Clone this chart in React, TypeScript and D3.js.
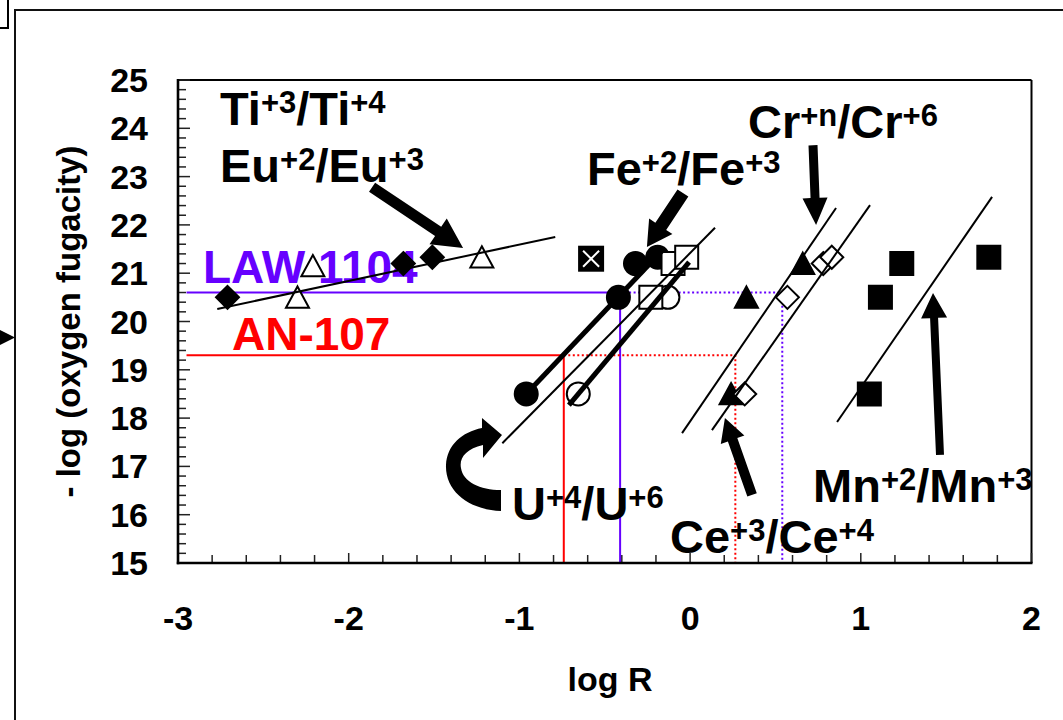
import React from 'react';
import * as d3 from 'd3';

// ---- chart data -------------------------------------------------------------
const xTickValues = [-3, -2, -1, 0, 1, 2];
const yTickValues = [15, 16, 17, 18, 19, 20, 21, 22, 23, 24, 25];

// [log R, -log fO2]
const tiOpenTriangles: [number, number][] = [[-2.3, 20.5], [-2.21, 21.15], [-1.22, 21.33]];
const euFilledDiamonds: [number, number][] = [[-2.71, 20.5], [-1.68, 21.2], [-1.51, 21.33]];
const crossedSquares: [number, number][] = [[-0.58, 21.3]];
const uFilledCircles: [number, number][] = [[-0.96, 18.5], [-0.42, 20.5], [-0.32, 21.2], [-0.19, 21.33]];
const uOpenCircles: [number, number][] = [[-0.655, 18.5], [-0.13, 20.5]];
const feOpenSquares: [number, number][] = [[-0.23, 20.5], [-0.1, 21.2], [-0.02, 21.33]];
const ceFilledTriangles: [number, number][] = [[0.24, 18.5], [0.33, 20.5], [0.66, 21.2]];
const crOpenDiamonds: [number, number][] = [[0.32, 18.5], [0.57, 20.5], [0.78, 21.2], [0.83, 21.33]];
const mnFilledSquares: [number, number][] = [[1.05, 18.5], [1.115, 20.5], [1.24, 21.2], [1.75, 21.33]];

// redox trend lines: [start, end, stroke width]
const tiEuLine: [number, number][] = [[-2.77, 20.26], [-0.79, 21.75]];
const uFilledLine: [number, number][] = [[-0.96, 18.5], [-0.16, 21.48]];
const feLine: [number, number][] = [[-1.1, 17.48], [0.146, 21.94]];
const uOpenLine: [number, number][] = [[-0.71, 18.27], [-0.006, 21.23]];
const crLineA: [number, number][] = [[-0.047, 17.69], [0.855, 22.35]];
const crLineB: [number, number][] = [[0.128, 17.75], [1.054, 22.41]];
const mnLine: [number, number][] = [[0.861, 17.92], [1.769, 22.58]];

// glass fugacity read-offs
const law1104Level = 20.6;
const law1104LogR = [-0.41, 0.54];
const an107Level = 19.3;
const an107LogR = [-0.74, 0.265];

// ---- layout -----------------------------------------------------------------
const W = 1063;
const H = 720;
const left = 178;
const right = 1031.5;
const top = 80;
const bottom = 563;
const FONT = '"Liberation Sans", Arial, Helvetica, sans-serif';
const PURPLE = '#6600ff';
const RED = '#ff0000';

const x = d3.scaleLinear().domain([-3, 2]).range([left, right]);
const y = d3.scaleLinear().domain([15, 25]).range([bottom, top]);

type Shape = 'circle' | 'square' | 'diamond' | 'triangle';

function markerPath(shape: Shape, cx: number, cy: number, s: number): string {
  const h = s / 2;
  if (shape === 'circle') {
    const p = d3.path();
    p.arc(cx, cy, h, 0, Math.PI * 2);
    p.closePath();
    return p.toString();
  }
  if (shape === 'square') {
    return `M${cx - h},${cy - h}H${cx + h}V${cy + h}H${cx - h}Z`;
  }
  if (shape === 'diamond') {
    return `M${cx},${cy - h}L${cx + h},${cy}L${cx},${cy + h}L${cx - h},${cy}Z`;
  }
  return `M${cx},${cy - h * 0.95}L${cx + h},${cy + h * 0.9}L${cx - h},${cy + h * 0.9}Z`;
}

function arrowPolygon(
  tail: [number, number],
  tip: [number, number],
  shaftW: number,
  headL: number,
  headW: number
): string {
  const x1 = x(tail[0]), y1 = y(tail[1]);
  const x2 = x(tip[0]), y2 = y(tip[1]);
  const len = Math.hypot(x2 - x1, y2 - y1);
  const ux = (x2 - x1) / len, uy = (y2 - y1) / len;
  const nx = -uy, ny = ux;
  const bx = x2 - ux * headL, by = y2 - uy * headL;
  const pts: [number, number][] = [
    [x1 + nx * shaftW / 2, y1 + ny * shaftW / 2],
    [bx + nx * shaftW / 2, by + ny * shaftW / 2],
    [bx + nx * headW / 2, by + ny * headW / 2],
    [x2, y2],
    [bx - nx * headW / 2, by - ny * headW / 2],
    [bx - nx * shaftW / 2, by - ny * shaftW / 2],
    [x1 - nx * shaftW / 2, y1 - ny * shaftW / 2],
  ];
  return 'M' + pts.map((p) => p.join(',')).join('L') + 'Z';
}

// pointer arrows: tail, tip (data units), shaft, head length, head width
const pointerArrows: { tail: [number, number]; tip: [number, number]; s: number; hl: number; hw: number }[] = [
  { tail: [-1.863, 22.78], tip: [-1.33, 21.52], s: 11, hl: 30, hw: 31 },
  { tail: [-0.042, 22.66], tip: [-0.253, 21.54], s: 13, hl: 25, hw: 28 },
  { tail: [0.72, 23.65], tip: [0.738, 22.0], s: 9, hl: 27, hw: 25 },
  { tail: [1.464, 17.24], tip: [1.423, 20.59], s: 8, hl: 25, hw: 26 },
  { tail: [0.363, 16.41], tip: [0.204, 18.0], s: 10, hl: 23, hw: 25 },
];

// curved U arrow, anchored at its tip
const curvedTip: [number, number] = [-1.102, 17.65];

type Label = { at: [number, number]; parts: [string, string, string, string]; size: number };
const ionLabels: Label[] = [
  { at: [-2.754, 24.07], parts: ['Ti', '+3', '/Ti', '+4'], size: 47 },
  { at: [-2.754, 22.89], parts: ['Eu', '+2', '/Eu', '+3'], size: 47 },
  { at: [-0.604, 22.83], parts: ['Fe', '+2', '/Fe', '+3'], size: 47 },
  { at: [0.339, 23.8], parts: ['Cr', '+n', '/Cr', '+6'], size: 47 },
  { at: [-1.043, 15.89], parts: ['U', '+4', '/U', '+6'], size: 47 },
  { at: [-0.118, 15.21], parts: ['Ce', '+3', '/Ce', '+4'], size: 47 },
  { at: [0.72, 16.26], parts: ['Mn', '+2', '/Mn', '+3'], size: 47 },
];

const SUP = 31;
const RAISE = 12;
const MS = 23; // marker size

function Markers({ data, shape, filled }: { data: [number, number][]; shape: Shape; filled: boolean }) {
  return (
    <g>
      {data.map((d, i) => (
        <path
          key={i}
          d={markerPath(shape, x(d[0]), y(d[1]), MS)}
          fill={filled ? '#000' : '#fff'}
          stroke="#000"
          strokeWidth={2}
        />
      ))}
    </g>
  );
}

function Segment({ pts, w }: { pts: [number, number][]; w: number }) {
  const line = d3.line<[number, number]>().x((d) => x(d[0])).y((d) => y(d[1]));
  return <path d={line(pts) || ''} stroke="#000" strokeWidth={w} fill="none" strokeLinecap="butt" />;
}

export default function App() {
  const minorX = d3.range(-3, 2.0001, 0.2);
  const minorY = d3.range(15, 25.0001, 0.2);

  const cx = x(curvedTip[0]);
  const cy = y(curvedTip[1]);
  const curved =
    `M${cx - 1},${cy + 76} C${cx - 32},${cy + 75} ${cx - 57},${cy + 57} ${cx - 56},${cy + 30} ` +
    `C${cx - 55},${cy + 10} ${cx - 40},${cy - 3} ${cx - 20},${cy - 7} ` +
    `L${cx - 20},${cy - 17} L${cx},${cy} L${cx - 19},${cy + 23} L${cx - 19},${cy + 10} ` +
    `C${cx - 36},${cy + 14} ${cx - 43},${cy + 23} ${cx - 41},${cy + 33} ` +
    `C${cx - 39},${cy + 47} ${cx - 22},${cy + 55} ${cx - 1},${cy + 55} Z`;

  return (
    <svg
      width={W}
      height={H}
      style={{ position: 'absolute', left: 0, top: 0, background: '#fff' }}
      fontFamily={FONT}
    >
      <rect x={0} y={0} width={W} height={H} fill="#fff" />

      {/* slide frame fragments */}
      <path d={`M15,${H}V10H${W}`} fill="none" stroke="#111" strokeWidth={2} />
      <path d="M0,28H8V0" fill="none" stroke="#000" strokeWidth={2} />
      <path d="M0,330L15,337.5L0,345Z" fill="#000" />

      {/* plot frame */}
      <line x1={left} x2={right} y1={top} y2={top} stroke="#000" strokeWidth={2} />
      <line x1={right} x2={right} y1={top} y2={bottom} stroke="#000" strokeWidth={2} />

      {/* ticks */}
      {minorY.map((v, i) => {
        const major = Math.abs(v - Math.round(v)) < 1e-6;
        return (
          <line key={'yt' + i} x1={left} x2={left + (major ? 12 : 8)} y1={y(v)} y2={y(v)} stroke="#222" strokeWidth={1.5} />
        );
      })}
      {minorX.map((v, i) => {
        const major = Math.abs(v - Math.round(v)) < 1e-6;
        return (
          <line key={'xt' + i} x1={x(v)} x2={x(v)} y1={bottom} y2={bottom - (major ? 10 : 8)} stroke="#222" strokeWidth={1.5} />
        );
      })}

      {/* glass read-off lines */}
      <path
        d={`M${x(-2.95)},${y(law1104Level)}H${x(law1104LogR[0])}V${y(15)}`}
        fill="none"
        stroke={PURPLE}
        strokeWidth={2}
      />
      <path
        d={`M${x(law1104LogR[0])},${y(law1104Level)}H${x(law1104LogR[1])}V${y(15)}`}
        fill="none"
        stroke={PURPLE}
        strokeWidth={2}
        strokeDasharray="2,2.5"
      />
      <path
        d={`M${x(-2.95)},${y(an107Level)}H${x(an107LogR[0])}V${y(15)}`}
        fill="none"
        stroke={RED}
        strokeWidth={2}
      />
      <path
        d={`M${x(an107LogR[0])},${y(an107Level)}H${x(an107LogR[1])}V${y(15)}`}
        fill="none"
        stroke={RED}
        strokeWidth={2}
        strokeDasharray="2,2.5"
      />

      <text x={x(-2.854)} y={y(20.8)} fill={PURPLE} fontSize={46} fontWeight="bold">
        LAW 1104
      </text>
      <text x={x(-2.684)} y={y(19.41)} fill={RED} fontSize={46} fontWeight="bold">
        AN-107
      </text>

      {/* axes */}
      <line x1={left} x2={left} y1={top - 1} y2={bottom + 1.2} stroke="#000" strokeWidth={2.6} />
      <line x1={left - 1.2} x2={right + 1} y1={bottom} y2={bottom} stroke="#000" strokeWidth={2.6} />

      {yTickValues.map((v) => (
        <text key={'yl' + v} x={148} y={y(v) + 12} textAnchor="end" fontSize={34} fontWeight="bold">
          {v}
        </text>
      ))}
      {xTickValues.map((v) => (
        <text key={'xl' + v} x={x(v)} y={630} textAnchor="middle" fontSize={34} fontWeight="bold">
          {v}
        </text>
      ))}
      <text x={610} y={691} textAnchor="middle" fontSize={34} fontWeight="bold">
        log R
      </text>
      <text
        transform={`translate(80,${(top + bottom) / 2}) rotate(-90)`}
        textAnchor="middle"
        fontSize={33}
        fontWeight="bold"
      >
        - log (oxygen fugacity)
      </text>

      {/* data markers */}
      <Markers data={tiOpenTriangles} shape="triangle" filled={false} />
      <Markers data={euFilledDiamonds} shape="diamond" filled={true} />
      <Markers data={uFilledCircles} shape="circle" filled={true} />
      <Markers data={uOpenCircles} shape="circle" filled={false} />
      <Markers data={feOpenSquares} shape="square" filled={false} />
      <Markers data={ceFilledTriangles} shape="triangle" filled={true} />
      <Markers data={crOpenDiamonds} shape="diamond" filled={false} />
      <Markers data={mnFilledSquares} shape="square" filled={true} />
      {crossedSquares.map((d, i) => {
        const px = x(d[0]);
        const py = y(d[1]);
        const h = 13;
        const k = 8;
        return (
          <g key={'cs' + i}>
            <rect x={px - h} y={py - h} width={2 * h} height={2 * h} fill="#000" />
            <path
              d={`M${px - k},${py - k}L${px + k},${py + k}M${px + k},${py - k}L${px - k},${py + k}`}
              stroke="#fff"
              strokeWidth={2}
            />
          </g>
        );
      })}

      {/* trend lines */}
      <Segment pts={tiEuLine} w={2} />
      <Segment pts={uFilledLine} w={5} />
      <Segment pts={feLine} w={2} />
      <Segment pts={uOpenLine} w={5} />
      <Segment pts={crLineA} w={2} />
      <Segment pts={crLineB} w={2} />
      <Segment pts={mnLine} w={2} />

      {/* pointer arrows */}
      {pointerArrows.map((a, i) => (
        <path key={'ar' + i} d={arrowPolygon(a.tail, a.tip, a.s, a.hl, a.hw)} fill="#000" />
      ))}
      <path d={curved} fill="#000" />

      {/* redox couple labels */}
      {ionLabels.map((l, i) => (
        <text key={'il' + i} x={x(l.at[0])} y={y(l.at[1])} fontSize={l.size} fontWeight="bold">
          <tspan>{l.parts[0]}</tspan>
          <tspan fontSize={SUP} dy={-RAISE}>
            {l.parts[1]}
          </tspan>
          <tspan dy={RAISE}>{l.parts[2]}</tspan>
          <tspan fontSize={SUP} dy={-RAISE}>
            {l.parts[3]}
          </tspan>
        </text>
      ))}
    </svg>
  );
}
